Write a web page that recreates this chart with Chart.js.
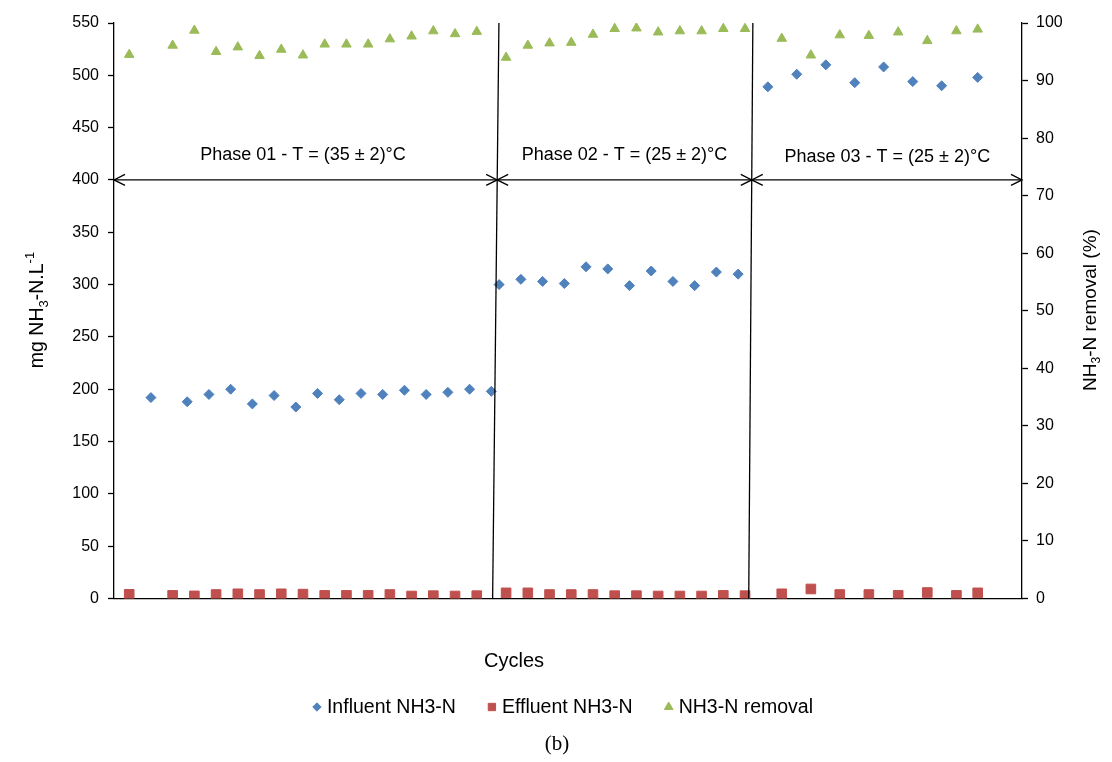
<!DOCTYPE html>
<html>
<head>
<meta charset="utf-8">
<script src="https://cdn.jsdelivr.net/npm/chart.js@4.4.0/dist/chart.umd.min.js"></script>
<style>
  html, body { margin: 0; padding: 0; background: #fff; }
  #wrap { width: 1112px; height: 762px; }
</style>
</head>
<body>
<div id="wrap"><canvas id="nh3Chart" width="1112" height="762"></canvas></div>
<script>
// Cycle position (hidden x axis) and readings for each series
const influentCycles = [1.7, 3.37, 4.37, 5.37, 6.37, 7.37, 8.37, 9.37, 10.37, 11.37, 12.37, 13.37, 14.37, 15.37, 16.37, 17.37,
    17.73, 18.73, 19.73, 20.73, 21.73, 22.73, 23.73, 24.73, 25.73, 26.73, 27.73, 28.73,
    30.1, 31.43, 32.77, 34.1, 35.43, 36.77, 38.1, 39.76];
const influentNH3 = [192, 188, 195, 200, 186, 194, 183, 196, 190, 196, 195, 199, 195, 197, 200, 198,
    300, 305, 303, 301, 317, 315, 299, 313, 303, 299, 312, 310,
    489, 501, 510, 493, 508, 494, 490, 498];

const effluentCycles = [0.7, 2.7, 3.7, 4.7, 5.7, 6.7, 7.7, 8.7, 9.7, 10.7, 11.7, 12.7, 13.7, 14.7, 15.7, 16.7,
    18.05, 19.05, 20.05, 21.05, 22.05, 23.05, 24.05, 25.05, 26.05, 27.05, 28.05, 29.05,
    30.74, 32.08, 33.41, 34.75, 36.1, 37.44, 38.78, 39.76];
const effluentNH3 = [4, 3, 2.5, 3.8, 4.5, 3.8, 4.5, 4.2, 3, 3, 3, 3.8, 2.4, 2.7, 2.4, 2.7,
    5.4, 5.4, 3.8, 3.8, 3.8, 2.7, 2.7, 2.4, 2.4, 2.4, 3, 2.7,
    4.5, 9.1, 3.8, 3.8, 3, 5.7, 3, 5.4];

const removalCycles = effluentCycles;
const removalPct = [94.5, 96.1, 98.7, 95.0, 95.8, 94.3, 95.4, 94.4, 96.3, 96.3, 96.3, 97.2, 97.7, 98.6, 98.1, 98.5,
    94.0, 96.1, 96.5, 96.6, 98.0, 99.0, 99.1, 98.4, 98.6, 98.6, 99.0, 99.0,
    97.3, 94.4, 97.9, 97.8, 98.4, 96.9, 98.6, 98.9];

// Phase annotations
const phaseNames = ['Phase 01 - T = (35 \u00b1 2)\u00b0C', 'Phase 02 - T = (25 \u00b1 2)\u00b0C', 'Phase 03 - T = (25 \u00b1 2)\u00b0C'];
const phaseLabelX = [8.7, 23.5, 35.6];
const phaseLabelY = [424, 424, 422];
const dividerTop = [17.72, 29.41];
const dividerBottom = [17.43, 29.22];
const arrowEnds = [0, 17.64, 29.36, 41.8];
const arrowLevel = 400;

const FONT = '"Liberation Sans", Arial, sans-serif';

const toPoints = (xs, ys) => xs.map((x, i) => ({ x: x, y: ys[i] }));

// Draws text with sub/superscript pieces, centred on (cx, cy)
const drawRich = (ctx, parts, cx, cy, size, angle) => {
    const small = Math.round(size * 0.65);
    ctx.save();
    ctx.translate(cx, cy);
    ctx.rotate(angle);
    let total = 0;
    parts.forEach(p => {
        ctx.font = (p.sub || p.sup ? small : size) + 'px ' + FONT;
        p.w = ctx.measureText(p.t).width;
        total += p.w;
    });
    let x = -total / 2;
    ctx.textAlign = 'left';
    ctx.textBaseline = 'middle';
    ctx.fillStyle = '#000';
    parts.forEach(p => {
        ctx.font = (p.sub || p.sup ? small : size) + 'px ' + FONT;
        const dy = p.sub ? size * 0.32 : (p.sup ? -size * 0.38 : 0);
        ctx.fillText(p.t, x, dy);
        x += p.w;
    });
    ctx.restore();
};

const arrowHead = (ctx, x, y, dir) => {
    ctx.beginPath();
    ctx.moveTo(x + dir * 11, y - 5.5);
    ctx.lineTo(x, y);
    ctx.lineTo(x + dir * 11, y + 5.5);
    ctx.stroke();
};

const overlayPlugin = {
    id: 'overlay',
    afterDatasetsDraw(chart) {
        const ctx = chart.ctx;
        const xs = chart.scales.x;
        const ys = chart.scales.y;
        const area = chart.chartArea;
        ctx.save();
        ctx.strokeStyle = '#000';
        ctx.lineWidth = 1.3;

        // phase dividers
        dividerTop.forEach((t, i) => {
            ctx.beginPath();
            ctx.moveTo(xs.getPixelForValue(t), area.top);
            ctx.lineTo(xs.getPixelForValue(dividerBottom[i]), area.bottom);
            ctx.stroke();
        });

        // double arrows for each phase
        const ay = ys.getPixelForValue(arrowLevel);
        for (let i = 0; i < 3; i++) {
            const x1 = xs.getPixelForValue(arrowEnds[i]);
            const x2 = xs.getPixelForValue(arrowEnds[i + 1]);
            ctx.beginPath();
            ctx.moveTo(x1, ay);
            ctx.lineTo(x2, ay);
            ctx.stroke();
            arrowHead(ctx, x1, ay, 1);
            arrowHead(ctx, x2, ay, -1);
        }

        // phase labels
        ctx.fillStyle = '#000';
        ctx.font = '18px ' + FONT;
        ctx.textAlign = 'center';
        ctx.textBaseline = 'middle';
        phaseNames.forEach((name, i) => {
            ctx.fillText(name, xs.getPixelForValue(phaseLabelX[i]), ys.getPixelForValue(phaseLabelY[i]));
        });
        ctx.restore();
    },
    afterDraw(chart) {
        const ctx = chart.ctx;
        ctx.save();

        // axis titles
        drawRich(ctx, [{ t: 'mg NH' }, { t: '3', sub: true }, { t: '-N.L' }, { t: '-1', sup: true }],
            38, 310, 19.5, -Math.PI / 2);
        drawRich(ctx, [{ t: 'NH' }, { t: '3', sub: true }, { t: '-N removal (%)' }],
            1091, 310, 19, -Math.PI / 2);

        ctx.fillStyle = '#000';
        ctx.textAlign = 'center';
        ctx.textBaseline = 'middle';
        ctx.font = '20px ' + FONT;
        ctx.fillText('Cycles', 514, 661);

        ctx.font = '21px "Liberation Serif", "Times New Roman", serif';
        ctx.fillText('(b)', 557, 744);

        // legend
        const legendRadius = [4.2, 5.2, 5];
        ctx.font = '19.5px ' + FONT;
        ctx.textAlign = 'left';
        const items = chart.data.datasets.map((ds, i) => ({
            ds: ds,
            r: legendRadius[i],
            w: ctx.measureText(ds.label).width
        }));
        const gap = 36;
        const totalW = items.reduce((s, it) => s + 10 + it.w, 0) + gap * (items.length - 1);
        let lx = 565 - totalW / 2;
        const ly = 707;
        items.forEach(it => {
            ctx.fillStyle = it.ds.backgroundColor;
            ctx.strokeStyle = it.ds.backgroundColor;
            Chart.helpers.drawPoint(ctx, {
                pointStyle: it.ds.pointStyle, radius: it.r, rotation: 0, borderWidth: 1
            }, lx, ly);
            ctx.fillStyle = '#000';
            ctx.fillText(it.ds.label, lx + 10, ly + 1);
            lx += 10 + it.w + gap;
        });
        ctx.restore();
    }
};

const whiteBg = {
    id: 'whiteBg',
    beforeDraw(chart) {
        const ctx = chart.ctx;
        ctx.save();
        ctx.fillStyle = '#fff';
        ctx.fillRect(0, 0, chart.width, chart.height);
        ctx.restore();
    }
};

const tickFont = { family: FONT, size: 16 };

new Chart(document.getElementById('nh3Chart'), {
    type: 'scatter',
    data: {
        datasets: [
            {
                label: 'Influent NH3-N',
                data: toPoints(influentCycles, influentNH3),
                yAxisID: 'y',
                pointStyle: 'rectRot',
                pointRadius: 5,
                backgroundColor: '#4F81BD',
                borderColor: '#4F81BD',
                borderWidth: 1
            },
            {
                label: 'Effluent NH3-N',
                data: toPoints(effluentCycles, effluentNH3),
                yAxisID: 'y',
                pointStyle: 'rect',
                pointRadius: 6.8,
                backgroundColor: '#C0504D',
                borderColor: '#C0504D',
                borderWidth: 1
            },
            {
                label: 'NH3-N removal',
                data: toPoints(removalCycles, removalPct),
                yAxisID: 'y1',
                pointStyle: 'triangle',
                pointRadius: 5.5,
                backgroundColor: '#9BBB59',
                borderColor: '#9BBB59',
                borderWidth: 1
            }
        ]
    },
    options: {
        responsive: false,
        animation: false,
        layout: { padding: { top: 23, left: 0, right: 0, bottom: 0 } },
        plugins: {
            legend: { display: false },
            tooltip: { enabled: false }
        },
        scales: {
            x: {
                type: 'linear',
                min: 0,
                max: 41.8,
                ticks: { display: false },
                grid: { drawOnChartArea: false, drawTicks: false },
                border: { display: true, color: '#000', width: 1.3 },
                afterFit: s => { s.height = 163.5; }
            },
            y: {
                position: 'left',
                min: 0,
                max: 550,
                ticks: { stepSize: 50, color: '#000', font: tickFont, padding: 9 },
                grid: { drawOnChartArea: false, tickLength: 6, tickColor: '#000', tickWidth: 1.3 },
                border: { color: '#000', width: 1.3 },
                afterFit: s => { s.width = 114; }
            },
            y1: {
                position: 'right',
                min: 0,
                max: 100,
                ticks: { stepSize: 10, color: '#000', font: tickFont, padding: 8 },
                grid: { drawOnChartArea: false, tickLength: 6, tickColor: '#000', tickWidth: 1.3 },
                border: { color: '#000', width: 1.3 },
                afterFit: s => { s.width = 90; }
            }
        }
    },
    plugins: [whiteBg, overlayPlugin]
});
</script>
</body>
</html>
